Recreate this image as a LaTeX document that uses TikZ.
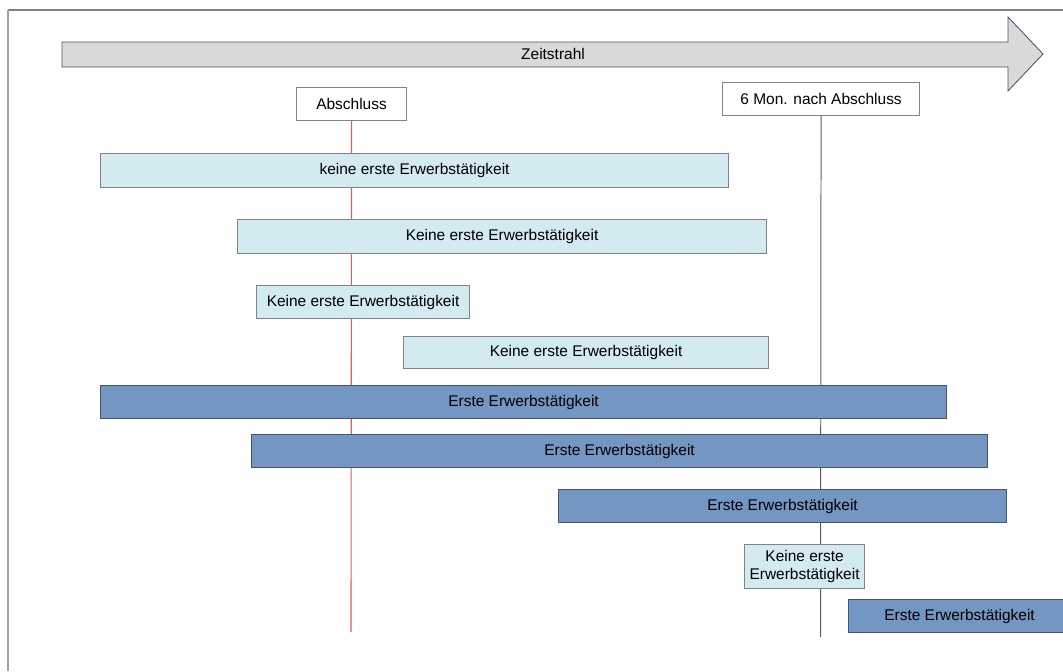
\documentclass[tikz,border=0pt]{standalone}
\usepackage{fontspec}
\setmainfont{Liberation Sans}
\usepackage{xcolor}
\usetikzlibrary{positioning, calc}
\definecolor{framegray}{RGB}{160, 160, 160}
\definecolor{arrowgray}{RGB}{217, 217, 217}
\definecolor{edgegray}{RGB}{130, 130, 130}
\definecolor{lightbarfill}{RGB}{210, 234, 240}
\definecolor{darkbarfill}{RGB}{116, 150, 194}
\definecolor{darkbaredge}{RGB}{70, 84, 104}
\definecolor{markred}{RGB}{215, 95, 95}

\def\u{0.025cm}
\tikzset{
    barbox/.style={draw, line width=0.8pt, anchor=north west, inner sep=1pt,
        font=\fontsize{11}{13}\selectfont, align=center},
    lightbar/.style={barbox, draw=edgegray, fill=lightbarfill},
    darkbar/.style={barbox, draw=darkbaredge, fill=darkbarfill},
    markbox/.style={barbox, draw=edgegray, fill=white}
}

\begin{document}
\begin{tikzpicture}[x=0.025cm, y=-0.025cm]
    \useasboundingbox (0,0) rectangle (1063,671);

    % Frame
    \draw[edgegray, line width=0.8pt] (8,10) -- (1063,10);
    \draw[framegray, line width=1.5pt] (8,10) -- (8,671);

    % Timeline
    \draw[darkbaredge, fill=arrowgray, line width=0.6pt]
        (62,42) -- (1008,42) -- (1008,17) -- (1043,54) -- (1008,91) -- (1008,67) -- (62,67) -- cycle;
    \node[font=\fontsize{11}{13}\selectfont] (timeline) at (553,54) {Zeitstrahl};

    % Markers
    \node[markbox, minimum width=110*\u, minimum height=33*\u] (grad) at (296,87) {Abschluss};
    \node[markbox, minimum width=197*\u, minimum height=33*\u] (sixmon) at (722,82) {6 Mon. nach Abschluss};
    \coordinate (gradend) at (351,632);
    \coordinate (sixmonend) at (820.5,637);
    \draw[markred, line width=0.8pt] (grad.south) -- (gradend);
    \draw[edgegray!70!black, line width=0.7pt] (sixmon.south) -- (sixmonend);

    % No first job
    \node[lightbar, minimum width=628*\u, minimum height=34*\u] (none1) at (100,153) {keine erste Erwerbstätigkeit};
    \node[lightbar, minimum width=529*\u, minimum height=34*\u] (none2) at (237,219) {Keine erste Erwerbstätigkeit};
    \node[lightbar, minimum width=213*\u, minimum height=33*\u] (none3) at (256,285) {Keine erste Erwerbstätigkeit};
    \node[lightbar, minimum width=365*\u, minimum height=32*\u] (none4) at (403,336) {Keine erste Erwerbstätigkeit};

    % First job
    \node[darkbar, minimum width=846*\u, minimum height=33*\u] (job1) at (100,385) {Erste Erwerbstätigkeit};
    \node[darkbar, minimum width=736*\u, minimum height=33*\u] (job2) at (251,434) {Erste Erwerbstätigkeit};
    \node[darkbar, minimum width=448*\u, minimum height=33*\u] (job3) at (558,489) {Erste Erwerbstätigkeit};
    \node[lightbar, minimum width=120*\u, minimum height=44*\u] (none5) at (744,544) {Keine erste\\Erwerbstätigkeit};
    \node[darkbar, minimum width=222*\u, minimum height=33*\u] (job4) at (848,599) {Erste Erwerbstätigkeit};
\end{tikzpicture}
\end{document}
